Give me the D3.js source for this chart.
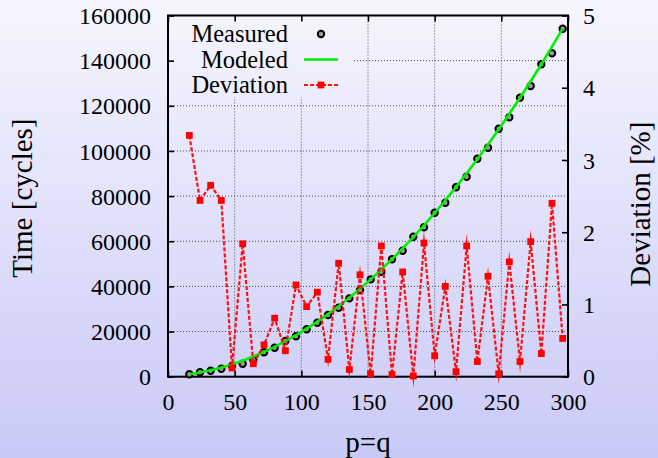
<!DOCTYPE html>
<html>
<head>
<meta charset="utf-8">
<script src="https://cdn.jsdelivr.net/npm/d3@7"></script>
</head>
<body style="margin:0">
<script>
// Problem size p=q for each run
const pq = [16, 24, 32, 40, 48, 56, 64, 72, 80, 88, 96, 104, 112, 120, 128, 136, 144, 152,
            160, 168, 176, 184, 192, 200, 208, 216, 224, 232, 240, 248, 256, 264, 272, 280, 288, 296];

// Measured execution time [cycles]
const measured = [1060, 1950, 2660, 3540, 4740, 5760, 7400, 10800, 12850, 15800, 17900, 21000,
                  23900, 27300, 30560, 34700, 38400, 43100, 46500, 52000, 55800, 62000, 66200, 72650,
                  77080, 83900, 88600, 96570, 101400, 109850, 114900, 123600, 128800, 138400, 143250, 154150];

// Modeled execution time [cycles]
const modeled = [1060, 1843, 2837, 4043, 5460, 7088, 8927, 10977, 13239, 15712, 18396, 21292,
                 24398, 27716, 31245, 34985, 38937, 43100, 47473, 52059, 56855, 61863, 67081, 72512,
                 78153, 84005, 90069, 96344, 102830, 109528, 116436, 123556, 130887, 138430, 146183, 154148];

// Relative deviation between measurement and model [%]
const deviation = [3.34, 2.44, 2.65, 2.44, 0.12, 1.84, 0.18, 0.44, 0.81, 0.36, 1.27, 0.97,
                   1.17, 0.24, 1.57, 0.10, 1.41, 0.04, 1.81, 0.03, 1.45, 0.01, 1.85, 0.29,
                   1.25, 0.07, 1.81, 0.21, 1.39, 0.04, 1.59, 0.21, 1.87, 0.32, 2.40, 0.53];

const xTicks = [0, 50, 100, 150, 200, 250, 300];
const yTicks = [0, 20000, 40000, 60000, 80000, 100000, 120000, 140000, 160000];
const y2Ticks = [0, 1, 2, 3, 4, 5];

const legendItems = ["Measured", "Modeled", "Deviation"];

const W = 658, H = 458;
const plot = { left: 168, right: 568, top: 15.5, bottom: 376.7 };
const FONT = "Liberation Serif";

const x = d3.scaleLinear().domain([0, 300]).range([plot.left, plot.right]);
const y = d3.scaleLinear().domain([0, 160000]).range([plot.bottom, plot.top]);
const y2 = d3.scaleLinear().domain([0, 5]).range([plot.bottom, plot.top]);

const svg = d3.select("body").append("svg").attr("width", W).attr("height", H)
  .attr("font-family", FONT).style("display", "block");

// Page background: vertical lavender gradient
const defs = svg.append("defs");
const grad = defs.append("linearGradient")
  .attr("id", "bg").attr("gradientUnits", "userSpaceOnUse")
  .attr("x1", 0).attr("y1", 0).attr("x2", 0).attr("y2", H);
grad.append("stop").attr("offset", "0%").attr("stop-color", "#f6f6fe");
grad.append("stop").attr("offset", "100%").attr("stop-color", "#c9c9f8");

svg.append("rect").attr("width", W).attr("height", H).attr("fill", "url(#bg)");

// Dotted grid
const grid = svg.append("g").attr("stroke", "#4a4a5a").attr("stroke-width", 1)
  .attr("stroke-dasharray", "1,2").attr("fill", "none");
grid.selectAll("line.gx").data(xTicks.slice(1, -1)).join("line")
  .attr("x1", d => x(d)).attr("x2", d => x(d))
  .attr("y1", plot.top).attr("y2", plot.bottom);
grid.selectAll("line.gy").data(yTicks.slice(1, -1)).join("line")
  .attr("x1", plot.left).attr("x2", plot.right)
  .attr("y1", d => y(d)).attr("y2", d => y(d));

// Opaque key area hides the grid behind it
svg.append("rect")
  .attr("x", plot.left).attr("y", plot.top)
  .attr("width", 184).attr("height", 82)
  .attr("fill", "url(#bg)");

// Axes (bottom, left, right with y2 scale) and mirrored top ticks
const gx = svg.append("g").attr("transform", `translate(0,${plot.bottom})`)
  .call(d3.axisBottom(x).tickValues(xTicks).tickSize(-6).tickPadding(16).tickFormat(d3.format("d")));
const gxTop = svg.append("g").attr("transform", `translate(0,${plot.top})`)
  .call(d3.axisTop(x).tickValues(xTicks).tickSize(-6).tickFormat(""));
const gy = svg.append("g").attr("transform", `translate(${plot.left},0)`)
  .call(d3.axisLeft(y).tickValues(yTicks).tickSize(-6).tickPadding(17).tickFormat(d3.format("d")));
const gy2 = svg.append("g").attr("transform", `translate(${plot.right},0)`)
  .call(d3.axisRight(y2).tickValues(y2Ticks).tickSize(-6).tickPadding(15).tickFormat(d3.format("d")));

[gx, gxTop, gy, gy2].forEach(g => {
  g.attr("font-family", FONT).attr("font-size", 24);
  g.select(".domain").remove();
  g.selectAll(".tick line").attr("stroke", "#000").attr("stroke-width", 1.6);
  g.selectAll(".tick text").attr("fill", "#000");
});
gx.selectAll(".tick text").attr("dy", "0.71em");
gy.selectAll(".tick text").attr("dy", "0.34em");
gy2.selectAll(".tick text").attr("dy", "0.34em");

// Frame
svg.append("rect")
  .attr("x", plot.left).attr("y", plot.top)
  .attr("width", plot.right - plot.left).attr("height", plot.bottom - plot.top)
  .attr("fill", "none").attr("stroke", "#000").attr("stroke-width", 2);

// Measured points: open black rings
svg.append("g").selectAll("circle").data(pq).join("circle")
  .attr("cx", d => x(d)).attr("cy", (d, i) => y(measured[i]))
  .attr("r", 3.2).attr("fill", "#9a9a9a").attr("stroke", "#000").attr("stroke-width", 2);

// Modeled curve
svg.append("path")
  .datum(pq)
  .attr("fill", "none").attr("stroke", "#00ee00").attr("stroke-width", 2.6)
  .attr("d", d3.line().x(d => x(d)).y((d, i) => y(modeled[i])));

// Deviation (right axis): dashed red line with square markers
svg.append("path")
  .datum(pq)
  .attr("fill", "none").attr("stroke", "#ff1010").attr("stroke-width", 2.2)
  .attr("stroke-dasharray", "4,2").attr("stroke-miterlimit", 12)
  .attr("d", d3.line().x(d => x(d)).y((d, i) => y2(deviation[i])));
svg.append("g").selectAll("rect").data(pq).join("rect")
  .attr("x", d => x(d) - 3.4).attr("y", (d, i) => y2(deviation[i]) - 3.4)
  .attr("width", 6.8).attr("height", 6.8).attr("fill", "#ff0000");

// Key
const key = svg.append("g");
const keyRowY = [34, 59.5, 85];
key.selectAll("text").data(legendItems).join("text")
  .attr("x", 288).attr("y", (d, i) => keyRowY[i]).attr("dy", "0.33em")
  .attr("text-anchor", "end").attr("font-size", 24.5).text(d => d);
key.append("circle").attr("cx", 321).attr("cy", keyRowY[0])
  .attr("r", 3.2).attr("fill", "#9a9a9a").attr("stroke", "#000").attr("stroke-width", 2);
key.append("line").attr("x1", 304).attr("x2", 338).attr("y1", keyRowY[1]).attr("y2", keyRowY[1])
  .attr("stroke", "#00ee00").attr("stroke-width", 2.6);
key.append("line").attr("x1", 304).attr("x2", 338).attr("y1", keyRowY[2]).attr("y2", keyRowY[2])
  .attr("stroke", "#ff1010").attr("stroke-width", 2.2).attr("stroke-dasharray", "4,2");
key.append("rect").attr("x", 321 - 3.4).attr("y", keyRowY[2] - 3.4)
  .attr("width", 6.8).attr("height", 6.8).attr("fill", "#ff0000");

// Axis titles
svg.append("text")
  .attr("transform", `translate(22,${(plot.top + plot.bottom) / 2 + 2}) rotate(-90)`)
  .attr("text-anchor", "middle").attr("dy", "0.35em").attr("font-size", 29)
  .text("Time [cycles]");
svg.append("text")
  .attr("transform", `translate(640,${(plot.top + plot.bottom) / 2 + 8}) rotate(-90)`)
  .attr("text-anchor", "middle").attr("dy", "0.35em").attr("font-size", 29)
  .text("Deviation [%]");
svg.append("text")
  .attr("x", (plot.left + plot.right) / 2).attr("y", 452)
  .attr("text-anchor", "middle").attr("font-size", 29)
  .text("p=q");

// Every label uses the serif face
svg.selectAll("text")
  .attr("font-family", FONT)
  .style("font-family", `"${FONT}"`)
  .style("fill", "#000");
</script>
</body>
</html>
